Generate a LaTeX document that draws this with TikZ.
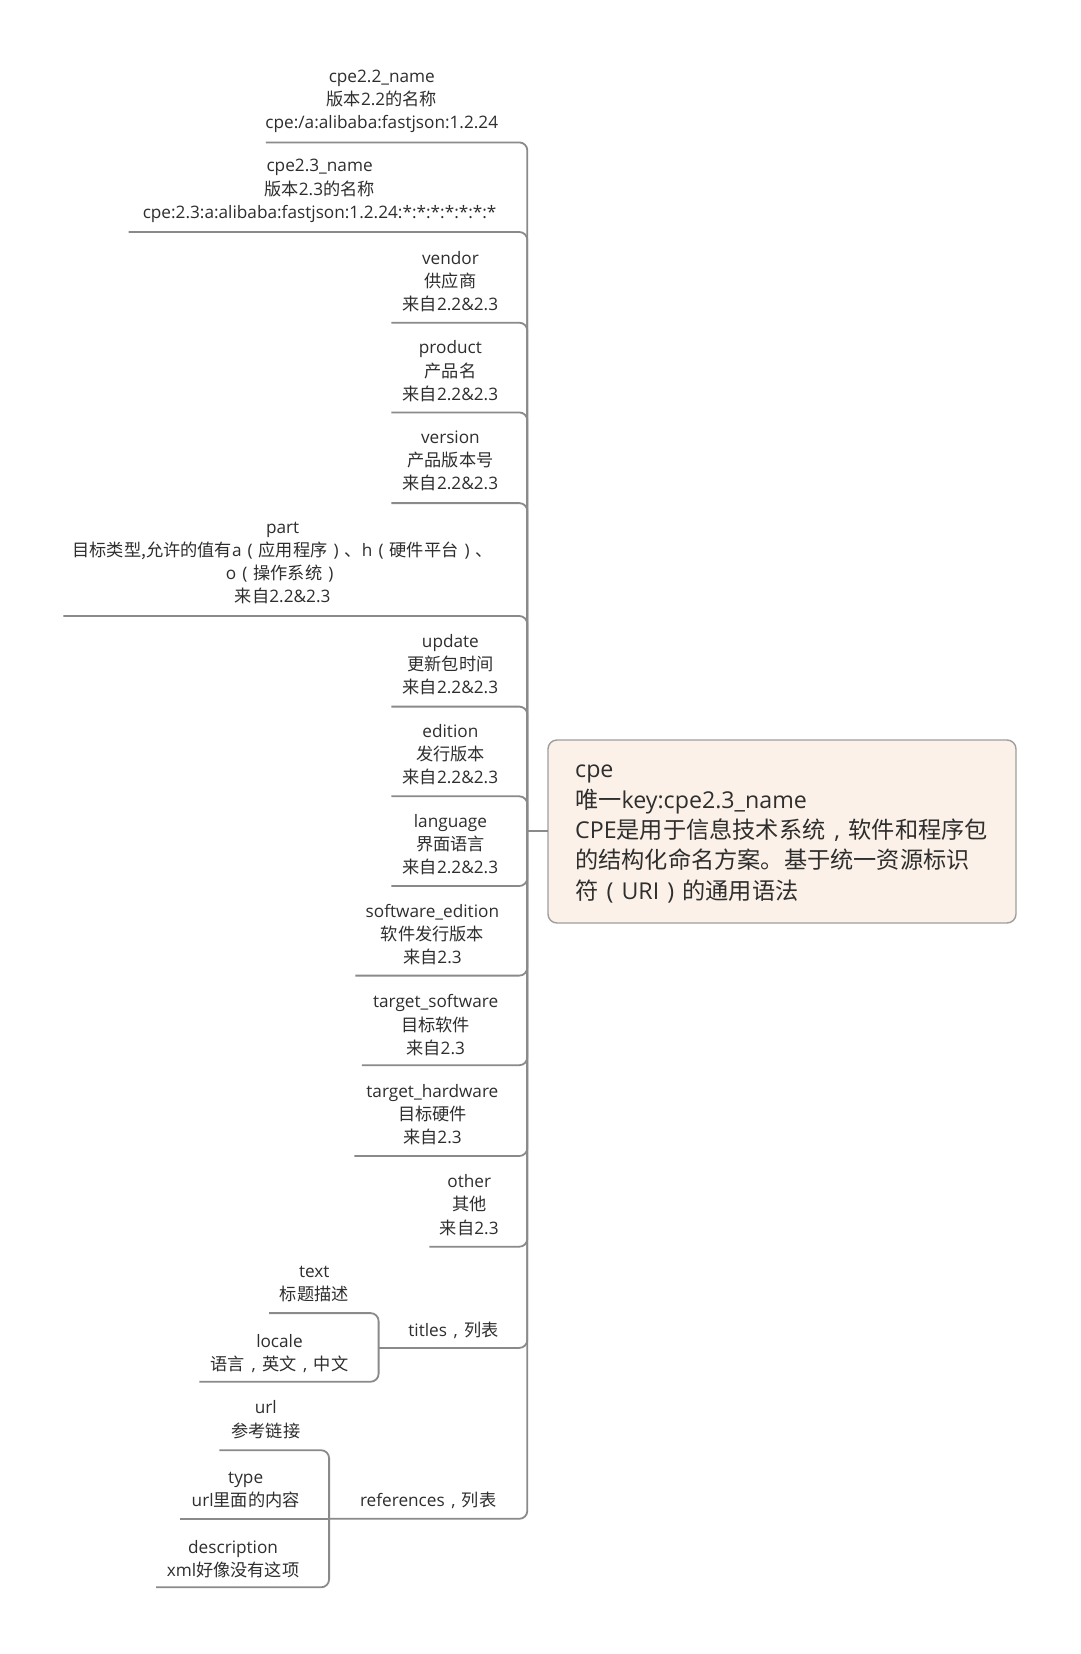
\documentclass[tikz,border=0pt]{standalone}
\usepackage{fontspec}
\setmainfont{Open Sans}
\newfontfamily\cjk{Noto Sans CJK SC}
\newcommand\zh[1]{{\cjk #1}}
\newcommand\cm{\makebox[1em]{,}}
\newcommand\lp{\makebox[1em]{(}}
\newcommand\rp{\makebox[1em]{)}}
\definecolor{linegrey}{HTML}{8A8A8A}
\definecolor{txt}{HTML}{2E2E2E}
\definecolor{rootfill}{HTML}{FCF1E8}
\definecolor{rootborder}{HTML}{9E9E9E}
\begin{document}
\begin{tikzpicture}[x=1pt,y=-1pt,
  leaf/.style={align=center,text=txt,inner sep=0pt,font=\fontsize{17.2}{23.2}\selectfont},
  conn/.style={draw=linegrey,line width=1.8pt,rounded corners=8pt},
  rootbox/.style={draw=rootborder,line width=1.4pt,fill=rootfill,rounded corners=9pt}]
\useasboundingbox (0,0) rectangle (1080,1654);
\fill[white] (0,0) rectangle (1080,1654);

% root
\draw[rootbox] (548,740) rectangle (1016,923);
\node[anchor=west,align=left,text=txt,inner sep=0pt,font=\fontsize{23.2}{30.4}\selectfont] (root) at (575,834)
 {cpe\\ \zh{唯一}key:cpe2.3\_name\\ CPE\zh{是用于信息技术系统}\cm\zh{软件和程序包}\\ \zh{的结构化命名方案。基于统一资源标识}\\ \zh{符}\lp URI\rp\zh{的通用语法}};
\coordinate (rootW) at (548,831.1);
\coordinate (J) at (527.3,831.1);

% leaves
\node[leaf] (n1) at (381.8,101.3) {cpe2.2\_name\\ \zh{版本}2.2\zh{的名称}\\ cpe:/a:alibaba:fastjson:1.2.24};
\node[leaf] (n2) at (319.6,190.9) {cpe2.3\_name\\ \zh{版本}2.3\zh{的名称}\\ cpe:2.3:a:alibaba:fastjson:1.2.24:*:*:*:*:*:*:*};
\node[leaf] (n3) at (450.4,281.6) {vendor\\ \zh{供应商}\\ \zh{来自}2.2\&2.3};
\node[leaf] (n4) at (450.4,371.3) {product\\ \zh{产品名}\\ \zh{来自}2.2\&2.3};
\node[leaf] (n5) at (450.4,460.9) {version\\ \zh{产品版本号}\\ \zh{来自}2.2\&2.3};
\node[leaf] (n6) at (282.7,563.2) {part\\ \zh{目标类型,允许的值有}a\lp\zh{应用程序}\rp\zh{、}h\lp\zh{硬件平台}\rp\zh{、}\\ o\lp\zh{操作系统}\rp\\ \zh{来自}2.2\&2.3};
\node[leaf] (n7) at (450.4,664.5) {update\\ \zh{更新包时间}\\ \zh{来自}2.2\&2.3};
\node[leaf] (n8) at (450.4,754.6) {edition\\ \zh{发行版本}\\ \zh{来自}2.2\&2.3};
\node[leaf] (n9) at (450.4,844.8) {language\\ \zh{界面语言}\\ \zh{来自}2.2\&2.3};
\node[leaf] (n10) at (432.4,934.5) {software\_edition\\ \zh{软件发行版本}\\ \zh{来自}2.3};
\node[leaf] (n11) at (435.6,1025.2) {target\_software\\ \zh{目标软件}\\ \zh{来自}2.3};
\node[leaf] (n12) at (432.4,1114.8) {target\_hardware\\ \zh{目标硬件}\\ \zh{来自}2.3};
\node[leaf] (n13) at (469.3,1205.0) {other\\ \zh{其他}\\ \zh{来自}2.3};
\node[leaf] (n14) at (453.5,1330.0) {titles\cm\zh{列表}};
\node[leaf] (n14a) at (314.3,1283.6) {text\\ \zh{标题描述}};
\node[leaf] (n14b) at (279.5,1353.2) {locale\\ \zh{语言}\cm\zh{英文}\cm\zh{中文}};
\node[leaf] (n15) at (428.2,1500.8) {references\cm\zh{列表}};
\node[leaf] (n15a) at (265.8,1419.6) {url\\ \zh{参考链接}};
\node[leaf] (n15b) at (245.7,1490.3) {type\\ url\zh{里面的内容}};
\node[leaf] (n15c) at (233.1,1558.9) {description\\ xml\zh{好像没有这项}};

% underline ends
\coordinate (e1) at (265.8,142.4);
\coordinate (e2) at (128.7,232.0);
\coordinate (e3) at (391.3,322.7);
\coordinate (e4) at (391.3,412.4);
\coordinate (e5) at (391.3,503.1);
\coordinate (e6) at (63.3,616.0);
\coordinate (e7) at (391.3,706.6);
\coordinate (e8) at (391.3,796.3);
\coordinate (e9) at (391.3,886.0);
\coordinate (e10) at (355.4,975.6);
\coordinate (e11) at (361.8,1065.2);
\coordinate (e12) at (354.4,1156.0);
\coordinate (e13) at (429.3,1246.7);
\coordinate (Jt) at (378.6,1347.9);
\coordinate (e14a) at (269.0,1313.1);
\coordinate (e14b) at (199.3,1381.7);
\coordinate (Jr) at (329.1,1518.8);
\coordinate (e15a) at (219.4,1450.2);
\coordinate (e15b) at (180.4,1518.8);
\coordinate (e15c) at (156.1,1587.3);

% connectors
\draw[conn] (rootW) -- (J);
\foreach \e in {e1,e2,e3,e4,e5,e6,e7,e8,e9,e10,e11,e12,e13,Jt,Jr}
  \draw[conn] (J) |- (\e);
\draw[conn] (Jt) |- (e14a);
\draw[conn] (Jt) |- (e14b);
\draw[conn] (Jr) |- (e15a);
\draw[conn] (Jr) -- (e15b);
\draw[conn] (Jr) |- (e15c);
\end{tikzpicture}
\end{document}
